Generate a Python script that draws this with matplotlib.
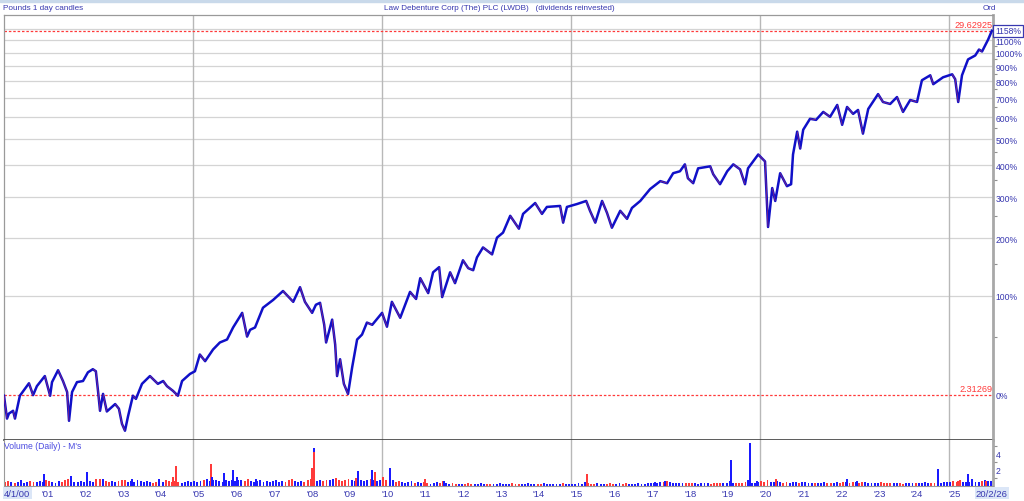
import numpy as np
import matplotlib
matplotlib.use("Agg")
import matplotlib.pyplot as plt
from matplotlib.collections import LineCollection
import matplotlib.transforms as mtrans

BLUE, RED, TXT, GRID = "#1010c8", "#ff3a3a", "#3838b0", "#d4d4d4"
plt.rcParams.update({"font.family": ["Liberation Sans", "DejaVu Sans"], "font.size": 6})

BASE, LAST, LAST_PCT = 2.31269, 29.62925, 1158

# closing price (pounds)
years = [2000.01, 2000.09, 2000.14, 2000.25, 2000.30, 2000.43, 2000.67, 2000.78, 2000.88,
         2001.09, 2001.23, 2001.28, 2001.44, 2001.57, 2001.68, 2001.73, 2001.81, 2001.94,
         2002.10, 2002.23, 2002.36, 2002.44, 2002.50, 2002.55, 2002.63, 2002.73, 2002.95,
         2003.05, 2003.13, 2003.21, 2003.29, 2003.42, 2003.50, 2003.66, 2003.87,
         2004.08, 2004.22, 2004.32, 2004.48, 2004.61, 2004.72, 2004.93,
         2005.06, 2005.19, 2005.33, 2005.54, 2005.72, 2005.91,
         2006.07, 2006.31, 2006.44, 2006.52, 2006.65, 2006.86,
         2007.13, 2007.39, 2007.66, 2007.84, 2007.97,
         2008.16, 2008.26, 2008.37, 2008.48, 2008.53, 2008.69, 2008.77, 2008.82, 2008.90,
         2009.00, 2009.11, 2009.22, 2009.35, 2009.48, 2009.61, 2009.75,
         2010.01, 2010.14, 2010.27, 2010.49, 2010.75, 2010.91,
         2011.02, 2011.23, 2011.36, 2011.52, 2011.60, 2011.81, 2011.94,
         2012.15, 2012.29, 2012.42, 2012.52, 2012.68, 2012.92,
         2013.05, 2013.21, 2013.40, 2013.63, 2013.74,
         2014.06, 2014.24, 2014.37, 2014.72, 2014.80, 2014.90,
         2015.17, 2015.41, 2015.51, 2015.65, 2015.83, 2015.96,
         2016.09, 2016.31, 2016.49, 2016.62, 2016.84,
         2017.10, 2017.37, 2017.55, 2017.71, 2017.89,
         2018.02, 2018.10, 2018.24, 2018.37, 2018.69, 2018.77, 2018.95,
         2019.14, 2019.30, 2019.48, 2019.61, 2019.69, 2019.96,
         2020.14, 2020.22, 2020.33, 2020.41, 2020.54, 2020.72, 2020.83, 2020.88, 2020.99,
         2021.07, 2021.15, 2021.33, 2021.49, 2021.68, 2021.86,
         2022.05, 2022.18, 2022.31, 2022.47, 2022.60, 2022.73, 2022.87,
         2023.13, 2023.26, 2023.45, 2023.63, 2023.79, 2023.98,
         2024.16, 2024.29, 2024.51, 2024.59, 2024.85,
         2025.09, 2025.17, 2025.25, 2025.35, 2025.51, 2025.70, 2025.80, 2025.88,
         2026.04, 2026.14]
price = [2.30, 1.96, 2.03, 2.07, 1.96, 2.30, 2.51, 2.31, 2.46,
         2.64, 2.30, 2.53, 2.75, 2.55, 2.36, 1.93, 2.36, 2.53,
         2.55, 2.71, 2.77, 2.73, 2.36, 2.07, 2.33, 2.06, 2.17,
         2.10, 1.89, 1.80, 1.99, 2.30, 2.25, 2.50, 2.64,
         2.50, 2.55, 2.46, 2.38, 2.30, 2.55, 2.68,
         2.73, 3.07, 2.93, 3.18, 3.34, 3.41,
         3.71, 4.11, 3.48, 3.65, 3.71, 4.26,
         4.50, 4.79, 4.44, 4.92, 4.44,
         4.11, 4.35, 4.41, 3.78, 3.34, 3.92, 3.29, 2.64, 2.97,
         2.50, 2.33, 2.81, 3.41, 3.53, 3.84, 3.78,
         4.11, 3.73, 4.44, 3.97, 4.76, 4.53,
         5.24, 4.72, 5.46, 5.66, 4.59, 5.46, 5.06,
         5.94, 5.62, 5.54, 6.06, 6.50, 6.19,
         6.96, 7.21, 8.11, 7.41, 8.22,
         8.87, 8.22, 8.63, 8.69, 7.73, 8.63,
         8.81, 9.00, 8.40, 7.73, 9.00, 8.28,
         7.46, 8.40, 7.94, 8.57, 9.00,
         9.78, 10.34, 10.19, 10.93, 11.08,
         11.63, 10.55, 10.19, 11.31, 11.47, 10.85, 10.12,
         11.08, 11.63, 11.23, 10.12, 11.31, 12.46,
         11.87, 7.50, 9.85, 9.00, 10.93, 9.98, 10.12, 12.46, 14.62,
         12.99, 14.82, 16.00, 15.88, 16.79, 16.22,
         17.63, 15.34, 17.38, 16.56, 17.02, 14.42, 17.14,
         19.02, 18.00, 17.75, 18.63, 16.79, 18.25,
         18.00, 20.96, 21.70, 20.39, 21.40,
         21.85, 21.11, 18.00, 21.70, 24.25, 24.93, 25.99, 25.63,
         27.85, 29.63]

# monthly background volume (M shares), Jan 2000 .. Feb 2026
vol_base = [.45, .6, .5, .4, .55, .7, .4, .5, .6, .45, .5, .6,
            .5, .7, .6, .5, .4, .6, .5, .8, .9, .6, .5, .45,
            .6, .5, .7, .6, .5, .8, .9, .7, .6, .5, .6, .5,
            .6, .7, .8, .5, .6, .5, .7, .6, .5, .6, .5, .4,
            .5, .6, .5, .7, .6, .5, .6, .5, .4, .5, .6, .5,
            .6, .5, .6, .7, .9, .6, .8, .7, .6, .5, .7, .6,
            .7, .6, .8, .7, .6, .9, .6, .5, .6, .7, .5, .6,
            .5, .6, .7, .5, .6, .5, .8, .9, .6, .5, .6, .5,
            .7, .9, .8, .6, .7, .6, .8, .7, .9, 1.0, .7, .6,
            .7, .9, .8, .6, .7, .8, .6, .7, .9, .8, .6, .7,
            .8, .7, .6, .7, .5, .6, .5, .4, .5, .6, .4, .5,
            .4, .5, .4, .3, .4, .5, .4, .6, .4, .3, .4, .3,
            .3, .25, .3, .35, .3, .25, .3, .35, .3, .25, .3, .3,
            .3, .35, .3, .25, .3, .35, .3, .25, .3, .3, .35, .3,
            .25, .3, .3, .35, .25, .3, .3, .25, .3, .35, .3, .25,
            .3, .3, .35, .3, .45, .35, .3, .3, .35, .3, .3, .3,
            .35, .3, .3, .35, .3, .4, .3, .3, .3, .35, .3, .3,
            .35, .4, .35, .4, .45, .5, .6, .5, .4, .35, .4, .35,
            .4, .35, .4, .35, .3, .35, .4, .35, .3, .35, .4, .35,
            .35, .4, .6, .35, .4, .35, .4, .45, .5, .4, .35, .5,
            .6, .5, .8, .55, .5, .6, .5, .4, .45, .4, .5, .45,
            .4, .45, .5, .4, .35, .4, .35, .4, .45, .4, .35, .4,
            .45, .4, .5, .45, .4, .45, .55, .4, .5, .45, .4, .35,
            .4, .35, .45, .4, .35, .4, .35, .4, .35, .3, .35, .4,
            .35, .4, .35, .4, .45, .4, .35, .4, .45, .4, .5, .45,
            .5, .6, .55, .7, .5, .55, .5, .6, .55, .5, .6, .7,
            .6, .65]

# high-volume days
spike_yr = [2001.07, 2001.78, 2002.21, 2002.44, 2002.63, 2003.40, 2004.11, 2004.48, 2004.56,
            2005.49, 2005.51, 2005.83, 2006.07, 2006.17, 2006.68, 2008.16, 2008.21, 2008.21,
            2009.32, 2009.37, 2009.74, 2009.82, 2010.04, 2010.22, 2011.15, 2011.65, 2015.43,
            2017.23, 2017.50, 2019.24, 2019.69, 2019.74, 2019.93, 2020.43, 2022.31, 2022.58,
            2024.72, 2025.25, 2025.51, 2025.62, 2025.99, 2026.04]
spike_vol = [1.5, 1.3, 1.7, 0.9, 0.9, 0.9, 0.9, 1.1, 2.5,
             2.8, 1.1, 1.6, 2.0, 1.1, 0.9, 2.3, 4.8, 4.2,
             1.0, 1.9, 2.0, 1.7, 1.1, 2.2, 0.9, 0.6, 1.5,
             0.55, 0.67, 3.2, 0.75, 5.4, 0.67, 0.9, 0.9, 0.67,
             2.1, 0.67, 1.5, 0.9, 0.67, 0.67]
spike_up = [1, 1, 1, 0, 1, 1, 1, 0, 0,
            0, 1, 1, 1, 1, 1, 0, 1, 0,
            0, 1, 1, 0, 0, 1, 0, 1, 0,
            1, 1, 1, 1, 1, 1, 0, 1, 1,
            1, 0, 1, 1, 0, 1]

pct_major = list(range(0, 1300, 100))
pct_minor = list(range(50, 1200, 100))
vol_ticks = [2, 4]
year_ticks = list(range(2001, 2026))
year_labels = ["'%02d" % (y % 100) for y in year_ticks]
grid_years = [2005, 2010, 2015, 2020, 2025]

W, H = 1024, 502
fig = plt.figure(figsize=(W / 100, H / 100), dpi=100)
ax = fig.add_axes([4 / W, 1 - 441 / H, 989 / W, 425 / H])
axv = fig.add_axes([4 / W, 1 - 487 / H, 989 / W, 46 / H], sharex=ax)

# window chrome strip
fig.patches.append(plt.Rectangle((0, 1 - 3 / H), 1, 3 / H, transform=fig.transFigure,
                                 color="#c9d9ea", zorder=0))

# ---- price panel -----------------------------------------------------
ax.set_yscale("log")
ax.set_xlim(2000.01, 2026.17)
ax.set_ylim(1.687, 33.1)
for p in pct_major[1:]:
    ax.axhline(BASE * (1 + p / 100), color=GRID, lw=0.9, zorder=0)
for gy in grid_years:
    ax.axvline(gy, color="#b8b8b8", lw=1.0, zorder=0)
    axv.axvline(gy, color="#b8b8b8", lw=1.0, zorder=0)
ax.axhline(BASE, color=RED, lw=0.9, ls=(0, (2, 1.5)), zorder=1)
ax.axhline(LAST, color=RED, lw=0.9, ls=(0, (2, 1.5)), zorder=1)

ax.plot(years, price, color=BLUE, lw=1.8, zorder=3)
pts = np.column_stack([years, price])
segs = [pts[i:i + 2] for i in range(len(pts) - 1) if price[i + 1] < price[i]]
ax.add_collection(LineCollection(segs, colors=RED, linewidths=0.45, alpha=0.6, zorder=4))

ax.yaxis.tick_right()
ax.set_yticks([BASE * (1 + p / 100) for p in pct_major])
ax.set_yticklabels([f"{p}%" for p in pct_major])
ax.set_yticks([BASE * (1 + p / 100) for p in pct_minor], minor=True)
ax.yaxis.set_minor_formatter(plt.NullFormatter())
ax.tick_params(axis="y", which="major", length=0, pad=2, labelcolor=TXT, labelsize=6.2)
ax.tick_params(axis="y", which="minor", colors="#909090", length=3, width=0.8)
ax.tick_params(axis="x", which="both", bottom=False, labelbottom=False)
for s in ["top", "left"]:
    ax.spines[s].set_color("#9a9a9a"); ax.spines[s].set_linewidth(0.9)
ax.spines["right"].set_color("#a8a8a8"); ax.spines["right"].set_linewidth(2)
ax.spines["bottom"].set_color("#404040"); ax.spines["bottom"].set_linewidth(1.2)

tr = mtrans.blended_transform_factory(ax.transAxes, ax.transData)
ax.text(0.9995, LAST * 1.012, f"{LAST:.5f}", transform=tr, ha="right", va="bottom",
        color=RED, fontsize=6.6)
ax.text(0.9995, BASE * 1.012, f"{BASE:.5f}", transform=tr, ha="right", va="bottom",
        color=RED, fontsize=6.6)
ax.text(1.002, LAST, f"{LAST_PCT}%", transform=tr,
        ha="left", va="center", color=TXT, fontsize=6.2, zorder=10, clip_on=False,
        bbox=dict(boxstyle="square,pad=0.2", fc="white", ec=TXT, lw=0.9))

# ---- volume panel ----------------------------------------------------
mt = 2000 + np.arange(len(vol_base)) / 12 + 0.04
now = np.interp(mt, years, price)
prev = np.interp(mt - 1 / 12, years, price)
axv.bar(mt, vol_base, width=0.05, color=np.where(now >= prev, "#1a1aff", RED), zorder=2)
axv.bar(spike_yr, spike_vol, width=0.05, zorder=3,
        color=["#1a1aff" if u else RED for u in spike_up])
axv.set_ylim(0, 5.75)
axv.yaxis.tick_right()
axv.set_yticks(vol_ticks)
axv.set_yticks([1, 3, 5], minor=True)
axv.tick_params(axis="y", which="major", length=0, pad=2, labelcolor=TXT, labelsize=6.2)
axv.tick_params(axis="y", which="minor", colors="#909090", length=3, width=0.8)
axv.set_xticks(year_ticks)
axv.set_xticklabels(year_labels, ha="left")
axv.tick_params(axis="x", length=0, labelcolor=TXT, labelsize=6.8, pad=2)
for s in ["top", "left", "bottom"]:
    axv.spines[s].set_color("#9a9a9a"); axv.spines[s].set_linewidth(0.8)
axv.spines["top"].set_visible(False)
axv.spines["right"].set_color("#a8a8a8"); axv.spines["right"].set_linewidth(2)
axv.text(0.0, 0.97, "Volume (Daily) - M's", transform=axv.transAxes, ha="left", va="top",
         color="#4a4ae0", fontsize=6.2)
trv = mtrans.blended_transform_factory(axv.transData, axv.transAxes)
axv.text(2000.01, -0.06, "4/1/00", transform=trv, ha="left", va="top", color=TXT,
         fontsize=6.8, bbox=dict(boxstyle="square,pad=0.15", fc="#dbe6f7", ec="none"))
axv.text(2026.14, -0.06, "20/2/26", transform=trv, ha="center", va="top", color=TXT,
         fontsize=6.8, clip_on=False,
         bbox=dict(boxstyle="square,pad=0.15", fc="#dbe6f7", ec="none"))

# ---- header texts ----------------------------------------------------
fig.text(3 / W, 1 - 9 / H, "Pounds 1 day candles", color=TXT, fontsize=5.9, va="center")
fig.text(384 / W, 1 - 9 / H, "Law Debenture Corp (The) PLC (LWDB)   (dividends reinvested)",
         color=TXT, fontsize=5.9, va="center")
fig.text(983 / W, 1 - 9 / H, "Ord", color=TXT, fontsize=5.9, va="center")

fig.savefig("out.png", dpi=100)
